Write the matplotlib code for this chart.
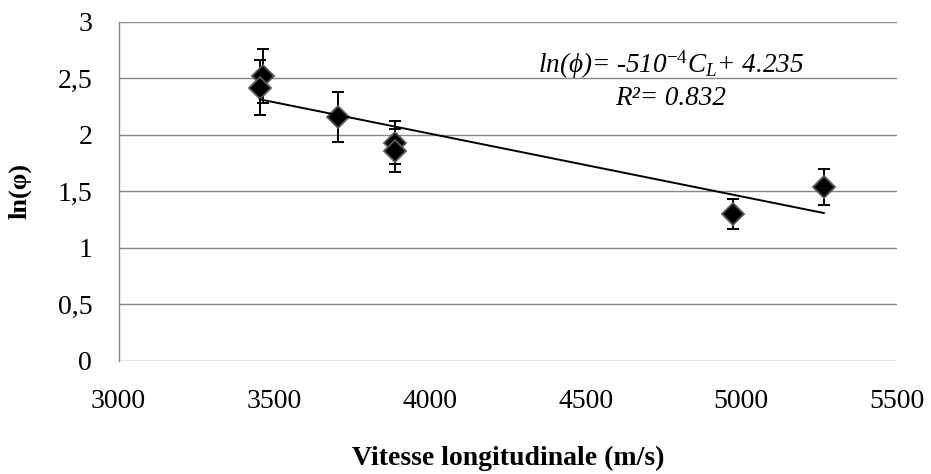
import numpy as np
import matplotlib
matplotlib.use("Agg")
import matplotlib.pyplot as plt

plt.rcParams["font.family"] = ["Liberation Serif", "DejaVu Serif"]
plt.rcParams["mathtext.fontset"] = "custom"
plt.rcParams["mathtext.rm"] = "Liberation Serif"
plt.rcParams["mathtext.it"] = "Liberation Serif:italic"

# vitesse longitudinale (m/s), ln(phi) and error bars
vitesse = [3463, 3454, 3706, 3888, 3888, 4974, 5265]
ln_phi = [2.52, 2.42, 2.16, 1.93, 1.86, 1.30, 1.54]
erreur = [0.24, 0.24, 0.22, 0.19, 0.19, 0.13, 0.16]

x_ticks = [3000, 3500, 4000, 4500, 5000, 5500]
y_ticks = [0, 0.5, 1, 1.5, 2, 2.5, 3]
y_labels = ["0", "0,5", "1", "1,5", "2", "2,5", "3"]

fig = plt.figure(figsize=(9.31, 4.74), dpi=100)
ax = fig.add_axes([0.1273, 0.2384, 0.8362, 0.7152])

ax.errorbar(vitesse, ln_phi, yerr=erreur, fmt="none", ecolor="black",
            elinewidth=1.4, capsize=4.5, capthick=1.4, zorder=3)
ax.plot(vitesse, ln_phi, linestyle="none", marker="D", markersize=11,
        markerfacecolor="black", markeredgecolor="#595959",
        markeredgewidth=1.3, zorder=4)

# linear trend line
a, b = np.polyfit(vitesse, ln_phi, 1)
xs = np.array([min(vitesse), max(vitesse)])
ax.plot(xs, a * xs + b, color="black", linewidth=1.4, zorder=5)

ax.text(4774, 2.49,
        "ln(ϕ)= -510$^{\\mathit{-4}}$C$_{\\mathit{L}}$+ 4.235\nR²= 0.832",
        ha="center", va="center", fontsize=19.5, fontstyle="italic",
        linespacing=1.3)

ax.set_xlim(3000, 5500)
ax.set_ylim(0, 3)
ax.set_xticks(x_ticks)
ax.set_yticks(y_ticks)
ax.set_yticklabels(y_labels)
ax.tick_params(axis="both", length=0, labelsize=20)
ax.tick_params(axis="x", pad=20)
ax.tick_params(axis="y", pad=19)

ax.grid(axis="y", color="#878787", linewidth=1.0)
ax.set_axisbelow(True)
for s in ["top", "right", "bottom"]:
    ax.spines[s].set_visible(False)
ax.spines["left"].set_color("#878787")
ax.spines["left"].set_linewidth(1.0)

ax.set_xlabel("Vitesse longitudinale (m/s)", fontsize=20, fontweight="bold",
              labelpad=23)
ax.set_ylabel("ln(φ)", fontsize=19, fontweight="bold")
ax.yaxis.set_label_coords(-0.112, 0.5)

fig.savefig("out.png", dpi=100)
